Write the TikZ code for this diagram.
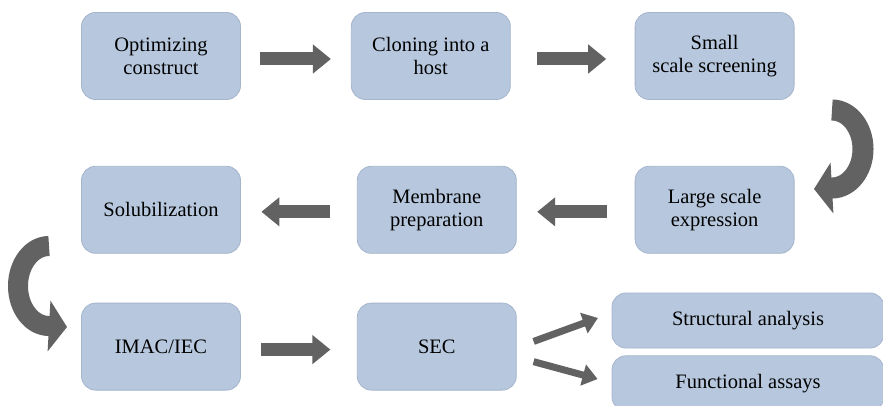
\documentclass[tikz,border=0pt]{standalone}
\usepackage{fontspec}
\setmainfont{Liberation Serif}
\newfontfamily\boxfont{Liberation Serif}
\usepackage{xcolor}
\usepackage{tikz}
\usetikzlibrary{arrows.meta, positioning, calc}

\definecolor{boxfill}{RGB}{183,200,222}
\definecolor{boxline}{RGB}{165,181,204}
\definecolor{arrowgray}{RGB}{98,98,98}

\begin{document}
\begin{tikzpicture}[
    x=1pt, y=1pt,
    node distance=64pt and 110pt,
    procbox/.style={rectangle, rounded corners=14pt, draw=boxline, line width=0.8pt, fill=boxfill, minimum width=159pt, minimum height=87pt, inner sep=0pt, align=center, font=\boxfont\fontsize{20.5}{23}\selectfont},
    endbox/.style={procbox, minimum width=272pt, minimum height=55pt},
    flowarrow/.style={-{Triangle[length=18pt, width=28pt]}, line width=13pt, arrowgray},
    fanarrow/.style={-{Triangle[length=15pt, width=21pt]}, line width=7pt, arrowgray},
    turnarrow/.style={-{Triangle[length=18pt, width=50pt]}, line width=21pt, arrowgray}
]

\fill[white] (0,0) rectangle (883,-406);
\useasboundingbox (0,0) rectangle (883,-406);

% === Row 1 ===
\node[procbox] (opt) at (161,-56) {Optimizing\\construct};
\node[procbox, right=110pt of opt] (clone) {Cloning into a\\host};
\node[procbox, right=124pt of clone] (screen) {Small\\scale screening};

% === Row 2 (right to left) ===
\node[procbox, below=66pt of screen] (express) {Large scale\\expression};
\node[procbox, left=118pt of express] (membrane) {Membrane\\preparation};
\node[procbox, left=116pt of membrane] (solub) {Solubilization};

% === Row 3 ===
\node[procbox, below=49pt of solub] (imac) {IMAC/IEC};
\node[procbox, below=49pt of membrane] (sec) {SEC};

% === Outputs ===
\node[endbox] (struct) at (748,-320.5) {Structural analysis};
\node[endbox, below=7pt of struct] (func) {Functional assays};

% === Straight arrows ===
\draw[flowarrow, shorten <=19.5pt, shorten >=20pt] ([yshift=-3pt]opt.east) -- ([yshift=-3pt]clone.west);
\draw[flowarrow, shorten <=26.5pt, shorten >=28.5pt] ([yshift=-3pt]clone.east) -- ([yshift=-3pt]screen.west);
\draw[flowarrow, shorten <=27.5pt, shorten >=20.5pt] ([yshift=-2pt]express.west) -- ([yshift=-2pt]membrane.east);
\draw[flowarrow, shorten <=26.5pt, shorten >=20.5pt] ([yshift=-2pt]membrane.west) -- ([yshift=-2pt]solub.east);
\draw[flowarrow, shorten <=20.5pt, shorten >=26.5pt] ([yshift=-3pt]imac.east) -- ([yshift=-3pt]sec.west);

% === Turning arrows between rows ===
\coordinate (rturn) at (832,-110);
\coordinate (lturn) at (49,-246);
\draw[turnarrow] (rturn) arc[start angle=90, end angle=-90, x radius=31, y radius=39] -- ++(-18,-1);
\draw[turnarrow, line width=20pt] (lturn) arc[start angle=90, end angle=270, x radius=31, y radius=40] -- ++(18,-1);

% === SEC fan-out ===
\draw[fanarrow, shorten <=18pt, shorten >=14.5pt] ([yshift=-1pt]sec.east) -- ([yshift=7.5pt]struct.west);
\draw[fanarrow, shorten <=17.5pt, shorten >=14.5pt] ([yshift=-10.5pt]sec.east) -- ([yshift=0.5pt]func.west);

\end{tikzpicture}
\end{document}
